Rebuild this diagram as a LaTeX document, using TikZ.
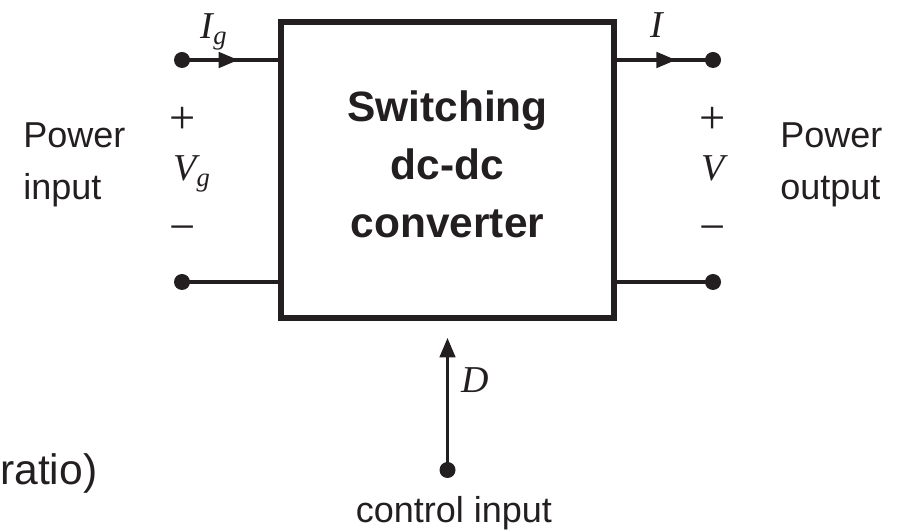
\documentclass[tikz,border=0pt]{standalone}
\usepackage{fontspec}
\setmainfont{Liberation Serif}
\setsansfont{Liberation Sans}
\usetikzlibrary{positioning,calc,arrows.meta,decorations.markings}
\definecolor{ink}{HTML}{231F20}

\tikzset{
    terminal/.style={circle, fill=ink, inner sep=0pt, minimum size=0.4cm},
    wire/.style={draw=ink, line width=2.4pt},
    flow/.style={wire, postaction={decorate},
        decoration={markings, mark=at position #1 with {\arrow[ink]{Triangle[length=14pt,width=11pt]}}}},
    side/.style={text=ink, font=\sffamily\fontsize{25.6}{37}\selectfont, inner sep=0pt},
    sym/.style={text=ink, font=\fontsize{33}{36}\selectfont, inner sep=0pt},
    var/.style={text=ink, font=\itshape\fontsize{27}{30}\selectfont, inner sep=0pt},
}

\begin{document}
\begin{tikzpicture}
    \useasboundingbox (0,0) rectangle (22.425,13.25);

    % Converter block
    \node[draw=ink, line width=4pt, minimum width=8.325cm, minimum height=7.4cm] (conv) at (11.1875,9.0) {};
    \node[text=ink, align=center, font=\sffamily\bfseries\fontsize{30.2}{41.3}\selectfont]
          (convtxt) at ([yshift=0.14cm]conv.center) {Switching\\dc-dc\\converter};

    % Terminals
    \node[terminal] (ig) at (4.55,11.75) {};
    \node[terminal] (gin) at (4.55,6.2) {};
    \node[terminal] (io) at (17.825,11.75) {};
    \node[terminal] (gout) at (17.825,6.2) {};
    \node[terminal] (ctrl) at (conv.south |- 0,1.5) {};

    % Wires
    \draw[flow=0.586] (ig.center) -- (ig -| conv.west);
    \draw[flow=0.616] (io -| conv.east) -- (io.center);
    \draw[wire] (gin.center) -- (gin -| conv.west);
    \draw[wire] (gout -| conv.east) -- (gout.center);

    % Control input
    \coordinate (dtip) at ([yshift=-0.425cm]conv.south);
    \draw[wire, -{Triangle[length=14pt,width=11pt]}] (ctrl.center) -- (dtip);
    \node[var] (dlbl) at (11.875,3.75) {D};

    % Currents and voltages
    \node[var] (iglbl) at (5.35,12.45) {I\textsubscript{g}};
    \node[var] (ilbl) at (16.425,12.625) {I};
    \node[sym] (pin) at (4.575,10.25) {+};
    \node[var] (vg) at (4.8,8.9) {V\textsubscript{g}};
    \node[sym] (min) at (4.575,7.4) {\textminus};
    \node[sym] (pout) at (17.825,10.25) {+};
    \node[var] (v) at (17.825,9.05) {V};
    \node[sym] (mout) at (17.825,7.4) {\textminus};

    % Side texts
    \node[side, anchor=base west] (inA) at (0.575,9.55) {Power};
    \node[side, anchor=base west] (inB) at (0.575,8.25) {input};
    \node[side, anchor=base west] (outA) at (19.5,9.55) {Power};
    \node[side, anchor=base west] (outB) at (19.5,8.25) {output};
    \node[side, anchor=base] (ctrltxt) at (11.35,0.175) {control input};
    \node[side, anchor=base west, font=\sffamily\fontsize{30.3}{36}\selectfont] (ratio) at (0,1.125) {ratio)};
\end{tikzpicture}
\end{document}
